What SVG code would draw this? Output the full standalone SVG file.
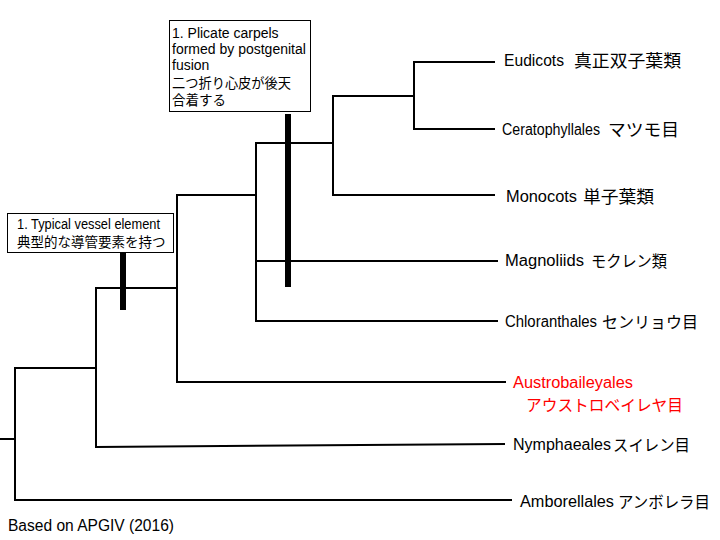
<svg xmlns="http://www.w3.org/2000/svg" width="720" height="540" viewBox="0 0 720 540">
<style>
.ln{stroke:#000;stroke-width:2;fill:none;stroke-linecap:square}
.bar{fill:#000}
.box{fill:#fff;stroke:#000;stroke-width:1}
.lat{font-family:"Liberation Sans","Noto Sans",Arial,sans-serif;font-size:16px;fill:#000}
.cjk{font-family:"Noto Sans CJK JP","Noto Sans",sans-serif;font-size:17.5px;fill:#000}
.kana{font-size:16px}
.bt{font-family:"Liberation Sans","Noto Sans",sans-serif;font-size:14px;fill:#000}
.bc{font-family:"Noto Sans CJK JP",sans-serif;font-size:13.5px;fill:#000}
.red{fill:#FF0000}
</style>
<rect width="720" height="540" fill="#fff"/>
<g id="connectors">
<path class="ln" d="M1,439 H15 M15,368 V500 M15,368 H96 M15,500 H511"/>
<path class="ln" d="M96,288 V447 M96,288 H177 M96,447 L504,444"/>
<path class="ln" d="M177,195 V382 M177,382 H505 M177,195 H256"/>
<path class="ln" d="M256,143 V321 M256,143 H333 M256,261 H497 M256,321 H497"/>
<path class="ln" d="M333,96 V195 M333,96 H414 M333,195 H494"/>
<path class="ln" d="M414,62 V129 M414,62 H494 M414,129 H494"/>
</g>
<g id="char1">
<rect class="box" x="7.5" y="213.5" width="166" height="39"/>
<text class="bt" x="17" y="229" font-size="13.5" textLength="143" lengthAdjust="spacingAndGlyphs">1. Typical vessel element</text>
<text class="bc" x="17" y="247">典型的な導管要素を持つ</text>
<rect class="bar" x="120" y="253" width="6" height="57"/>
</g>
<g id="char2">
<rect class="box" x="169.5" y="20.5" width="141" height="91"/>
<text class="bt" x="172" y="38">1. Plicate carpels</text>
<text class="bt" x="172" y="54">formed by postgenital</text>
<text class="bt" x="172" y="70">fusion</text>
<text class="bc" x="172" y="88" textLength="119" lengthAdjust="spacingAndGlyphs">二つ折り心皮が後天</text>
<text class="bc" x="172" y="105">合着する</text>
<rect class="bar" x="285" y="114" width="6" height="173"/>
</g>
<g id="eudicots">
<text class="lat" x="504" y="66" textLength="60" lengthAdjust="spacingAndGlyphs">Eudicots</text>
<text class="cjk" x="574" y="67" textLength="107" lengthAdjust="spacingAndGlyphs">真正双子葉類</text>
</g>
<g id="ceratophyllales">
<text class="lat" x="502" y="135" textLength="98" lengthAdjust="spacingAndGlyphs">Ceratophyllales</text>
<text class="cjk" x="608" y="136" textLength="71" lengthAdjust="spacingAndGlyphs">マツモ目</text>
</g>
<g id="monocots">
<text class="lat" x="506" y="202" textLength="71" lengthAdjust="spacingAndGlyphs">Monocots</text>
<text class="cjk" x="583" y="203" textLength="71" lengthAdjust="spacingAndGlyphs">単子葉類</text>
</g>
<g id="magnoliids">
<text class="lat" x="505" y="266" textLength="79" lengthAdjust="spacingAndGlyphs">Magnoliids</text>
<text class="cjk kana" x="591" y="267" textLength="76" lengthAdjust="spacingAndGlyphs">モクレン類</text>
</g>
<g id="chloranthales">
<text class="lat" x="505" y="327" textLength="92" lengthAdjust="spacingAndGlyphs">Chloranthales</text>
<text class="cjk kana" x="602" y="328" textLength="96" lengthAdjust="spacingAndGlyphs">センリョウ目</text>
</g>
<g id="austrobaileyales">
<text class="lat red" x="513" y="388" textLength="120" lengthAdjust="spacingAndGlyphs">Austrobaileyales</text>
<text class="cjk kana red" x="526" y="411" textLength="157" lengthAdjust="spacingAndGlyphs">アウストロベイレヤ目</text>
</g>
<g id="nymphaeales">
<text class="lat" x="513" y="450" textLength="98" lengthAdjust="spacingAndGlyphs">Nymphaeales</text>
<text class="cjk kana" x="613" y="451" textLength="77" lengthAdjust="spacingAndGlyphs">スイレン目</text>
</g>
<g id="amborellales">
<text class="lat" x="520" y="507" textLength="94" lengthAdjust="spacingAndGlyphs">Amborellales</text>
<text class="cjk kana" x="618" y="508" textLength="92" lengthAdjust="spacingAndGlyphs">アンボレラ目</text>
</g>
<g id="source"><text class="lat" x="8" y="531" textLength="166" lengthAdjust="spacingAndGlyphs">Based on APGIV (2016)</text></g>
</svg>
